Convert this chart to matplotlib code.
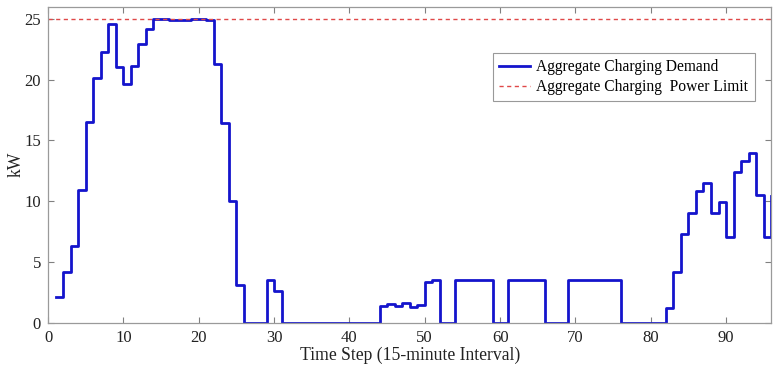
import matplotlib
matplotlib.use("Agg")
import matplotlib.pyplot as plt
import numpy as np

time_steps = list(range(1, 97))
demand_kw = [
    2.1, 4.2, 6.3, 10.9, 16.55, 20.1, 22.3, 24.6, 21.0, 19.65,
    21.15, 22.9, 24.2, 25.0, 25.0, 24.9, 24.9, 24.92, 24.97, 24.97,
    24.93, 21.3, 16.4, 10.0, 3.1, 0, 0, 0, 3.5, 2.6,
    0, 0, 0, 0, 0, 0, 0, 0, 0, 0,
    0, 0, 0, 1.35, 1.55, 1.35, 1.6, 1.3, 1.45, 3.35,
    3.5, 0, 0, 3.5, 3.5, 3.5, 3.5, 3.5, 0, 0,
    3.5, 3.5, 3.5, 3.5, 3.5, 0, 0, 0, 3.5, 3.5,
    3.5, 3.5, 3.5, 3.5, 3.5, 0, 0, 0, 0, 0,
    0, 1.2, 4.2, 7.3, 9.0, 10.85, 11.5, 9.0, 9.9, 7.05,
    12.4, 13.3, 14.0, 10.5, 7.05, 10.4,
]
power_limit_kw = 25
x_ticks = [0, 10, 20, 30, 40, 50, 60, 70, 80, 90]
y_ticks = [0, 5, 10, 15, 20, 25]

plt.rcParams['font.family'] = ['Liberation Serif', 'DejaVu Serif']

fig = plt.figure(figsize=(7.78, 3.70), dpi=100)
ax = fig.add_axes([0.0617, 0.1278, 0.9297, 0.8542])

ax.step(time_steps, demand_kw, where='post', color='#1414CC', lw=2.0,
        label='Aggregate Charging Demand')
ax.axhline(power_limit_kw, color='#E04848', lw=1.0, ls=(0, (3, 2.5)),
           label='Aggregate Charging  Power Limit')

ax.set_xlim(0, 96)
ax.set_ylim(0, 26)
ax.set_xticks(x_ticks)
ax.set_yticks(y_ticks)
ax.tick_params(direction='in', top=True, right=True, length=4, width=0.8,
               color='#808080', labelsize=12, pad=5, labelcolor='#222222')
for s in ax.spines.values():
    s.set_color('#9a9a9a')
    s.set_linewidth(0.9)

ax.set_xlabel('Time Step (15-minute Interval)', fontsize=12.7, labelpad=1, color='#222222')
ax.set_ylabel('kW', fontsize=12.7, labelpad=0, color='#222222')

leg = ax.legend(loc='upper right', bbox_to_anchor=(0.977, 0.853), fontsize=11.2,
                frameon=True, fancybox=False, edgecolor='#808080',
                handlelength=2.0, borderpad=0.4, labelspacing=0.25,
                handletextpad=0.4, borderaxespad=0)
leg.get_frame().set_linewidth(0.8)

fig.savefig('out.png', dpi=100)
